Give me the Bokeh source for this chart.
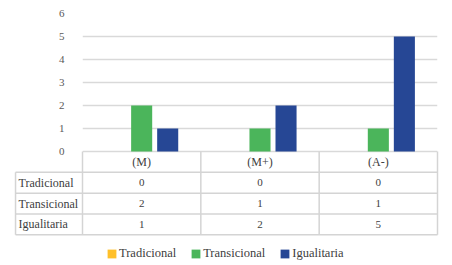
from bokeh.plotting import figure
from bokeh.models import ColumnDataSource, FactorRange, Range1d, FixedTicker, Legend, LegendItem
from bokeh.transform import dodge
from bokeh.core.properties import value
from bokeh.embed import file_html
from bokeh.resources import INLINE

# ---- data ----
categories = ["(M)", "(M+)", "(A-)"]
series_names = ["Tradicional", "Transicional", "Igualitaria"]
tradicional = [0, 0, 0]
transicional = [2, 1, 1]
igualitaria = [1, 2, 5]
y_ticks = [0, 1, 2, 3, 4, 5, 6]

# ---- style ----
colors = ["#FFC02A", "#4BB55B", "#264795"]
FONT = "Liberation Serif"
TEXT = "#404040"
GRID = "#d9d9d9"
TLINE = "#d4d4d4"
offsets = [-0.22, 0.0, 0.22]
BAR_W = 0.178
ROW_H = 0.905          # table row height in y units
LABEL_COL_X = -0.566   # left edge of row-label column (x units)
Y_BOTTOM = -114 / 23   # frame extends down to hold table + legend

series_values = [tradicional, transicional, igualitaria]
src = ColumnDataSource(dict(cat=categories, Tradicional=tradicional,
                            Transicional=transicional, Igualitaria=igualitaria))

p = figure(width=452, height=265, x_range=FactorRange(factors=categories, range_padding=0),
           y_range=Range1d(Y_BOTTOM, 6), output_backend="svg", toolbar_location=None,
           min_border_left=82, min_border_right=15, min_border_top=13, min_border_bottom=0)
p.outline_line_color = None
p.background_fill_color = "white"
p.border_fill_color = "white"

items = []
for name, off, c in zip(series_names, offsets, colors):
    r = p.vbar(x=dodge("cat", off, range=p.x_range), top=name, width=BAR_W,
               source=src, fill_color=c, line_color=None)
    items.append(LegendItem(label=name, renderers=[r]))

p.xaxis.visible = False
p.xgrid.visible = False
p.ygrid.grid_line_color = GRID
p.ygrid.grid_line_width = 1.5
p.yaxis.ticker = FixedTicker(ticks=y_ticks)
p.yaxis.axis_line_color = None
p.yaxis.major_tick_line_color = None
p.yaxis.minor_tick_line_color = None
p.yaxis.major_label_standoff = 12
p.yaxis.major_label_text_font = FONT
p.yaxis.major_label_text_font_size = "11px"
p.yaxis.major_label_text_color = "#595959"

# ---- data table below the chart ----
n = len(series_names)
ncat = len(categories)
h_y = [-ROW_H * k for k in range(1, n + 2)]
p.segment(x0=[LABEL_COL_X] * len(h_y), x1=[ncat] * len(h_y), y0=h_y, y1=h_y,
          line_color=TLINE, line_width=1.5, level="overlay")
vx = list(range(ncat + 1))
p.segment(x0=vx, x1=vx, y0=[0] * len(vx), y1=[h_y[-1]] * len(vx),
          line_color=TLINE, line_width=1.5, level="overlay")
p.segment(x0=[LABEL_COL_X], x1=[LABEL_COL_X], y0=[h_y[0]], y1=[h_y[-1]],
          line_color=TLINE, line_width=1.5, level="overlay")

p.text(x=categories, y=[-ROW_H / 2] * ncat, text=categories,
       text_font=value(FONT), text_font_size="12px", text_color=TEXT,
       text_align="center", text_baseline="middle", level="overlay")
for k, (name, vals) in enumerate(zip(series_names, series_values), start=1):
    yc = -(k + 0.5) * ROW_H
    p.text(x=categories, y=[yc] * ncat, text=[str(v) for v in vals],
           text_font=value(FONT), text_font_size="11px", text_color=TEXT,
           text_align="center", text_baseline="middle", level="overlay")
    p.text(x=[LABEL_COL_X + 0.026], y=[yc], text=[name],
           text_font=value(FONT), text_font_size="12px", text_color=TEXT,
           text_align="left", text_baseline="middle", level="overlay")

legend = Legend(items=items, orientation="horizontal", location=(24, 4),
                padding=0, margin=0, spacing=14, glyph_width=11, glyph_height=11,
                label_standoff=2, label_height=12, label_text_font=FONT,
                label_text_font_size="12.5px", label_text_color=TEXT,
                border_line_color=None, background_fill_alpha=0)
p.add_layout(legend)

open("out.html", "w").write(file_html(p, INLINE))
